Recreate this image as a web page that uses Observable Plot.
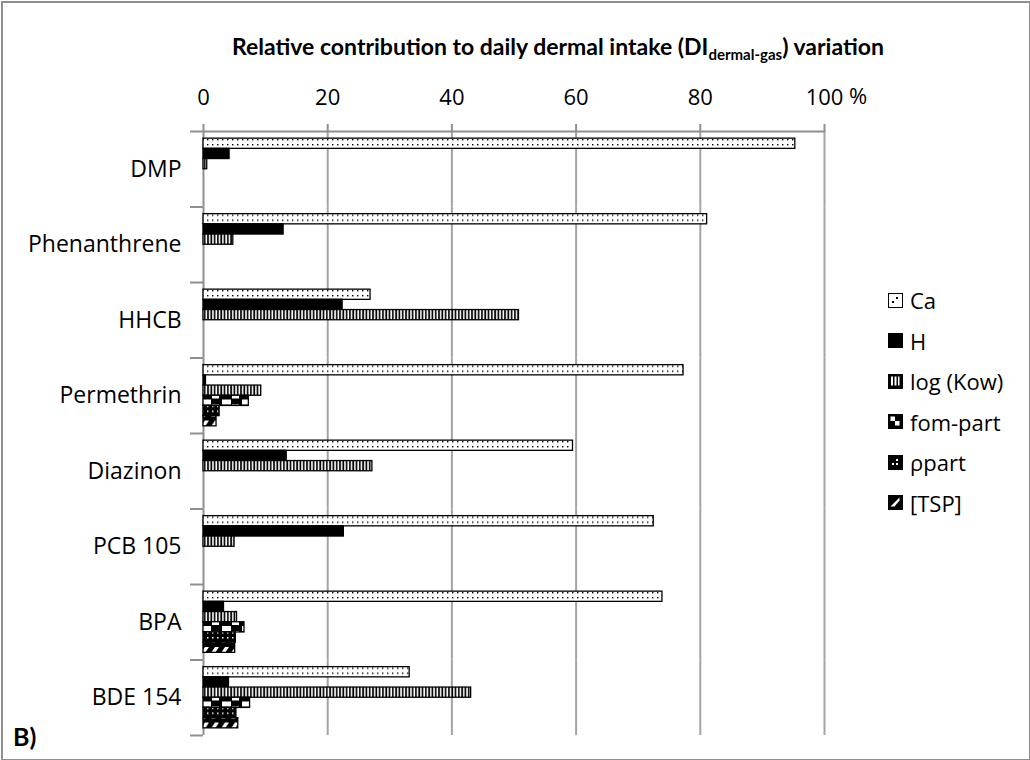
<!DOCTYPE html>
<html>
<head>
<meta charset="utf-8">
<script src="https://cdn.jsdelivr.net/npm/d3@7"></script>
<script src="https://cdn.jsdelivr.net/npm/@observablehq/plot@0.6"></script>
<style>
  html, body { margin: 0; padding: 0; background: #fff; }
  #page { position: relative; width: 1030px; height: 760px; overflow: hidden; font-family: "Open Sans", Lato, sans-serif; color: #000; }
  #border { position: absolute; left: 1px; top: 1px; width: 1026px; height: 756px; border: 2px solid #8f8f8f; pointer-events: none; }
  #title { position: absolute; left: 232px; top: 31px; font-family: Lato, sans-serif; font-weight: bold; font-size: 23px; line-height: 30px; white-space: nowrap; }
  #title sub { font-size: 15px; vertical-align: -5px; line-height: 0; }
  #chart { position: absolute; left: 0; top: 62px; }
  #pct { position: absolute; left: 849px; top: 80px; font-size: 22px; line-height: 30px; }
  #panel { position: absolute; left: 13px; top: 722px; font-family: Lato, sans-serif; font-size: 25px; font-weight: bold; line-height: 28px; }
  #legend { position: absolute; left: 888px; top: 0; }
  .item { position: absolute; left: 0; height: 24px; display: flex; align-items: center; white-space: nowrap; font-size: 22px; }
  .item svg { flex: none; margin-right: 7px; }
</style>
</head>
<body>
<svg width="0" height="0" style="position:absolute">
  <defs>
    <pattern id="pCa" patternUnits="userSpaceOnUse" width="5" height="5">
      <rect width="5" height="5" fill="#fff"/>
      <rect x="2" y="2" width="1.4" height="1.4" fill="#000"/>
    </pattern>
    <pattern id="pKow" patternUnits="userSpaceOnUse" width="3.3" height="10">
      <rect width="3.3" height="10" fill="#000"/>
      <rect x="1" width="1.6" height="10" fill="#fff"/>
    </pattern>
    <pattern id="pFom" patternUnits="userSpaceOnUse" width="20" height="10">
      <rect width="20" height="10" fill="#000"/>
      <rect x="2" y="1" width="9" height="5" fill="#fff"/>
      <rect x="12" y="6" width="7" height="4" fill="#fff"/>
    </pattern>
    <pattern id="pRho" patternUnits="userSpaceOnUse" width="5" height="5">
      <rect width="5" height="5" fill="#000"/>
      <rect x="2" y="2" width="1.5" height="1.5" fill="#fff"/>
    </pattern>
    <pattern id="pTsp" patternUnits="userSpaceOnUse" width="10" height="10">
      <rect width="10" height="10" fill="#000"/>
      <polygon points="1,8 5,8 9,2 5,2" fill="#fff"/>
    </pattern>
    <pattern id="sCa" patternUnits="userSpaceOnUse" width="14" height="14">
      <rect width="14" height="14" fill="#fff"/>
      <rect x="4" y="8" width="2" height="2" fill="#000"/>
      <rect x="8" y="4" width="2" height="2" fill="#000"/>
    </pattern>
    <pattern id="sKow" patternUnits="userSpaceOnUse" width="14" height="14">
      <rect width="14" height="14" fill="#000"/>
      <rect x="3" y="2.5" width="2" height="9" fill="#fff"/>
      <rect x="6.5" y="2.5" width="2" height="9" fill="#fff"/>
      <rect x="10" y="2.5" width="1.5" height="9" fill="#fff"/>
    </pattern>
    <pattern id="sFom" patternUnits="userSpaceOnUse" width="14" height="14">
      <rect width="14" height="14" fill="#000"/>
      <rect x="2.5" y="2.5" width="4.5" height="4.5" fill="#fff"/>
      <rect x="7" y="7" width="4.5" height="4.5" fill="#fff"/>
    </pattern>
    <pattern id="sRho" patternUnits="userSpaceOnUse" width="14" height="14">
      <rect width="14" height="14" fill="#000"/>
      <rect x="4" y="8" width="2" height="2" fill="#fff"/>
      <rect x="8" y="4" width="2" height="2" fill="#fff"/>
      <rect x="8" y="8" width="2" height="2" fill="#fff"/>
    </pattern>
    <pattern id="sTsp" patternUnits="userSpaceOnUse" width="14" height="14">
      <rect width="14" height="14" fill="#000"/>
      <polygon points="2.5,11.5 6.5,11.5 11.5,5.5 11.5,2.5" fill="#fff"/>
    </pattern>
  </defs>
</svg>

<div id="page">
  <div id="title">Relative contribution to daily dermal intake (DI<sub>dermal-gas</sub>) variation</div>
  <div id="pct">%</div>
  <div id="chart"></div>
  <div id="legend"></div>
  <div id="panel">B)</div>
  <div id="border"></div>
</div>

<script>
// ---- data ----
const categories = ["DMP", "Phenanthrene", "HHCB", "Permethrin", "Diazinon", "PCB 105", "BPA", "BDE 154"];
const series = ["Ca", "H", "log (Kow)", "fom-part", "ρpart", "[TSP]"];
const xTicks = [0, 20, 40, 60, 80, 100];

const valuesCa  = [95.3, 81.1, 26.9, 77.3, 59.5, 72.5, 73.9, 33.2];
const valuesH   = [4.2, 12.9, 22.4, 0.4, 13.4, 22.6, 3.3, 4.1];
const valuesKow = [0.6, 4.8, 50.8, 9.3, 27.2, 5.0, 5.4, 43.1];
const valuesFom = [0, 0, 0, 7.3, 0, 0, 6.6, 7.5];
const valuesRho = [0, 0, 0, 2.6, 0, 0, 5.2, 5.3];
const valuesTsp = [0, 0, 0, 2.1, 0, 0, 5.1, 5.6];

const seriesValues = [valuesCa, valuesH, valuesKow, valuesFom, valuesRho, valuesTsp];
const barFill = ["url(#pCa)", "#000", "url(#pKow)", "url(#pFom)", "url(#pRho)", "url(#pTsp)"];
const swatchFill = ["url(#sCa)", "#000", "url(#sKow)", "url(#sFom)", "url(#sRho)", "url(#sTsp)"];

const rows = [];
categories.forEach((c, i) => {
  series.forEach((s, j) => {
    const v = seriesValues[j][i];
    if (v > 0) rows.push({category: c, series: s, value: v, fill: barFill[j]});
  });
});

// ---- layout ----
const W = 1030, H = 698, mT = 69, mB = 25, mL = 203, mR = 206;
const po = 0.7;
const facetH = (H - mT - mB) / categories.length;
const step = facetH / (series.length + 2 * po);
const edge = step * (po + 0.5);
const gray = "#8f8f8f";
const plotW = W - mL - mR;

const chart = Plot.plot({
  width: W, height: H,
  marginTop: mT, marginBottom: mB, marginLeft: mL, marginRight: mR,
  style: {fontFamily: "'Open Sans', Lato, sans-serif", fontSize: "23px", color: "#000", background: "transparent", overflow: "visible"},
  x: {domain: [0, 100], axis: null},
  y: {domain: series, axis: null, paddingInner: 0, paddingOuter: po, round: false},
  fy: {domain: categories, padding: 0, round: false, axis: "left", label: null, tickSize: 0, tickPadding: 22},
  color: {type: "identity"},
  marks: [
    Plot.ruleX(xTicks.slice(1), {stroke: "#a3a3a3", strokeWidth: 2}),
    Plot.ruleX([0], {stroke: gray, strokeWidth: 2}),
    Plot.barX(rows, {x: "value", y: "series", fy: "category", fill: "fill", stroke: "#000", strokeWidth: 1.3}),
    // top axis line
    Plot.ruleY([series[0]], {y: d => d, fy: [categories[0]], dy: -edge, stroke: gray, strokeWidth: 2}),
    // category boundary ticks on the left axis
    Plot.ruleY(categories, {y: () => series[0], fy: d => d, dy: -edge, insetLeft: -13, insetRight: plotW, stroke: gray, strokeWidth: 2}),
    Plot.ruleY([categories[categories.length - 1]], {y: () => series[series.length - 1], fy: d => d, dy: edge, insetLeft: -13, insetRight: plotW, stroke: gray, strokeWidth: 2}),
    Plot.axisX(xTicks, {anchor: "top", tickSize: 8, tickPadding: 19, stroke: gray, strokeWidth: 2, fill: "#000", fontSize: 22, label: null})
  ]
});
document.getElementById("chart").appendChild(chart);

// ---- legend ----
const legend = document.getElementById("legend");
series.forEach((s, j) => {
  const item = document.createElement("div");
  item.className = "item";
  item.style.top = (288 + j * 40.5) + "px";
  item.innerHTML = `<svg width="15" height="15"><rect x="0.5" y="0.5" width="14" height="14" fill="${swatchFill[j]}" stroke="#000" stroke-width="1"/></svg><span>${s}</span>`;
  legend.appendChild(item);
});
</script>
</body>
</html>
